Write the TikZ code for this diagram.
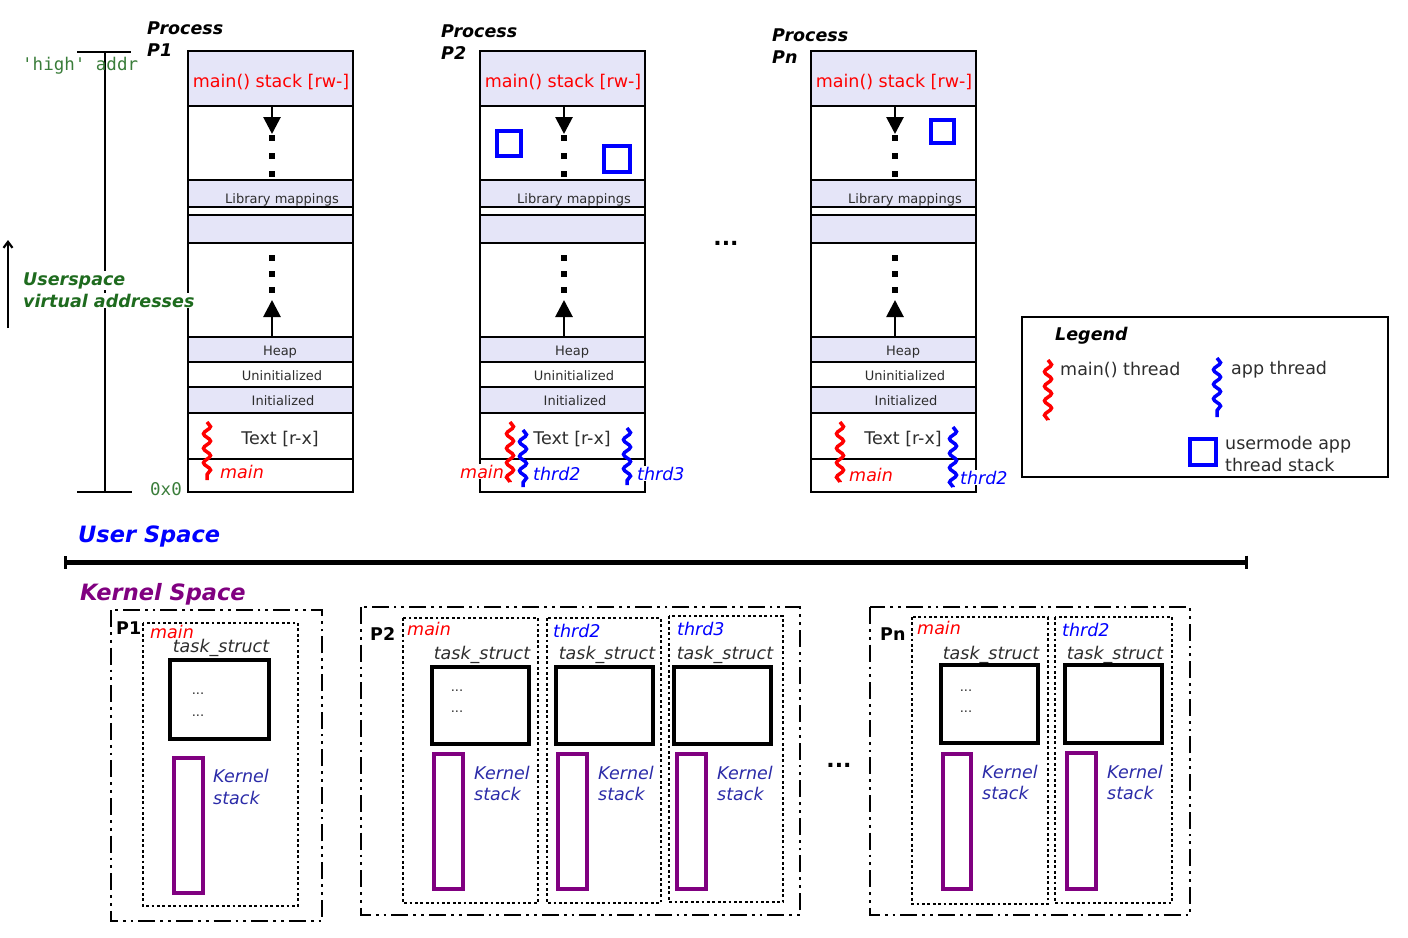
\documentclass[tikz,border=0pt]{standalone}
\usepackage{fontspec}
\setmainfont{DejaVu Sans}
\setmonofont{DejaVu Sans Mono}
\usetikzlibrary{arrows.meta,decorations.pathmorphing}
\definecolor{lav}{RGB}{229,229,248}
\definecolor{dgreen}{RGB}{30,107,30}
\definecolor{mgreen}{RGB}{58,125,58}
\definecolor{kblue}{RGB}{43,43,168}
\definecolor{kpurple}{RGB}{128,0,128}
\definecolor{tgrey}{RGB}{45,45,45}
\tikzset{
  txt/.style={inner sep=0pt, yshift=-4.5pt, font=\fontsize{17.5}{22}\selectfont},
  smalltxt/.style={inner sep=0pt, yshift=-3pt, font=\fontsize{13}{16}\selectfont, text=tgrey},
  bigtxt/.style={inner sep=0pt, yshift=-6pt, font=\fontsize{22.5}{27}\selectfont\bfseries\itshape},
  ellips/.style={inner sep=0pt, yshift=-4.5pt, font=\fontsize{22}{26}\selectfont\bfseries},
  boxline/.style={draw=black, line width=2.8pt},
  squig/.style={line width=3.5pt, decorate, decoration={snake, amplitude=3.5pt, segment length=14.5pt}},
  bluesq/.style={draw=blue, line width=4.5pt},
  growarrow/.style={line width=2.8pt, -{Triangle[length=17pt,width=17pt]}},
  dotline/.style={line width=5.5pt},
  outerbox/.style={draw=black, line width=2.8pt, dash pattern=on 17pt off 5pt on 2.8pt off 5pt on 2.8pt off 5pt},
  innerbox/.style={draw=black, line width=2.8pt, dash pattern=on 2.8pt off 2.6pt},
  taskbox/.style={draw=black, line width=4.5pt},
  kstack/.style={draw=kpurple, line width=4pt},
  wlabel/.style={txt, fill=white, inner sep=1pt},
}
\begin{document}
\begin{tikzpicture}[x=1pt,y=-1pt]
\useasboundingbox (0,0) rectangle (1408,937);

% ---------- address axis ----------
\draw[line width=2.8pt] (77,52) -- (131,52);
\draw[line width=2.8pt] (77,492) -- (132,492);
\draw[line width=2.8pt] (105,52) -- (105,492);
\node[txt, anchor=mid west, font=\fontsize{17.5}{22}\ttfamily, text=mgreen] (high) at (22,63) {'high' addr};
\node[txt, anchor=mid west, font=\fontsize{17.5}{22}\ttfamily, text=mgreen] (zero) at (150,488) {0x0};
\coordinate (uaS) at (8,328);
\coordinate (uaE) at (8,240);
\draw[line width=2.2pt, -{Straight Barb[length=6pt,width=9pt]}] (uaS) -- (uaE);

% ---------- user-space columns ----------
\foreach \cx/\nm in {188/a,480/b,811/c}{
\begin{scope}[shift={(\cx,0)}]
  \fill[lav] (0,51) rectangle (165,106);
  \fill[lav] (0,180) rectangle (165,207);
  \fill[lav] (0,215) rectangle (165,243);
  \fill[lav] (0,337) rectangle (165,362);
  \fill[lav] (0,387) rectangle (165,413);
  \foreach \yy in {106,180,207,215,243,337,362,387,413,459}{
    \draw[line width=2.8pt] (0,\yy) -- (165,\yy);
  }
  \draw[boxline] (0,51) rectangle (165,492);
  \node[txt, anchor=mid, text=red] (stk\nm) at (83,80) {main() stack [rw-]};
  \node[smalltxt, anchor=mid] (lib\nm) at (94,198) {Library mappings};
  \node[smalltxt, anchor=mid] (heap\nm) at (92,350) {Heap};
  \node[smalltxt, anchor=mid] (unin\nm) at (94,375) {Uninitialized};
  \node[smalltxt, anchor=mid] (init\nm) at (95,400) {Initialized};
  \node[txt, anchor=mid, text=tgrey] (text\nm) at (92,437) {Text [r-x]};
  \coordinate (sa\nm) at (84,106);
  \coordinate (sb\nm) at (84,134);
  \draw[growarrow] (sa\nm) -- (sb\nm);
  \draw[dotline, dash pattern=on 5.5pt off 12.5pt] (84,135) -- (84,177);
  \coordinate (ha\nm) at (84,337);
  \coordinate (hb\nm) at (84,300);
  \draw[growarrow] (ha\nm) -- (hb\nm);
  \draw[dotline, dash pattern=on 5.5pt off 10.5pt] (84,255) -- (84,293);
\end{scope}
}

% Userspace label (white background, over axis and box edge)
\node[txt, anchor=mid west, fill=white, inner sep=1pt, text=dgreen, font=\fontsize{17.5}{22}\selectfont\bfseries\itshape] (us1) at (22,278) {Userspace};
\node[txt, anchor=mid west, fill=white, inner sep=1pt, text=dgreen, font=\fontsize{17.5}{22}\selectfont\bfseries\itshape] (us2) at (22,300) {virtual addresses};

% process titles
\node[txt, anchor=mid west, font=\fontsize{17.5}{22}\selectfont\bfseries\itshape] (t1a) at (147,27) {Process};
\node[txt, anchor=mid west, font=\fontsize{17.5}{22}\selectfont\bfseries\itshape] (t1b) at (147,49) {P1};
\node[txt, anchor=mid west, font=\fontsize{17.5}{22}\selectfont\bfseries\itshape] (t2a) at (441,30) {Process};
\node[txt, anchor=mid west, font=\fontsize{17.5}{22}\selectfont\bfseries\itshape] (t2b) at (441,52) {P2};
\node[txt, anchor=mid west, font=\fontsize{17.5}{22}\selectfont\bfseries\itshape] (t3a) at (772,34) {Process};
\node[txt, anchor=mid west, font=\fontsize{17.5}{22}\selectfont\bfseries\itshape] (t3b) at (772,56) {Pn};
\node[ellips, anchor=mid] (udots) at (726,238) {...};

% blue user stacks
\draw[bluesq] (497,131) rectangle (521,156);
\draw[bluesq] (604,146) rectangle (630,172);
\draw[bluesq] (931,120) rectangle (954,143);

% thread labels and squiggles
\node[txt, anchor=mid west, text=red, font=\fontsize{17.5}{22}\selectfont\itshape] (m1) at (220,471) {main};
\draw[squig, red] (207,422) -- (207,480);

\node[wlabel, anchor=mid west, text=red, font=\fontsize{17.5}{22}\selectfont\itshape] (m2) at (459,471) {main};
\node[wlabel, anchor=mid west, text=blue, font=\fontsize{17.5}{22}\selectfont\itshape] (th22) at (532,473) {thrd2};
\node[wlabel, anchor=mid west, text=blue, font=\fontsize{17.5}{22}\selectfont\itshape] (th23) at (636,473) {thrd3};
\draw[squig, red] (510,422) -- (510,482);
\draw[squig, blue] (523,430) -- (523,487);
\draw[squig, blue] (627,428) -- (627,485);

\node[wlabel, anchor=mid west, text=red, font=\fontsize{17.5}{22}\selectfont\itshape] (m3) at (848,474) {main};
\node[wlabel, anchor=mid west, text=blue, font=\fontsize{17.5}{22}\selectfont\itshape] (th32) at (959,477) {thrd2};
\draw[squig, red] (840,422) -- (840,482);
\draw[squig, blue] (953,427) -- (953,487);

% ---------- legend ----------
\draw[boxline] (1022,317) rectangle (1388,477);
\node[txt, anchor=mid west, font=\fontsize{17.5}{22}\selectfont\bfseries\itshape] (leg) at (1055,333) {Legend};
\draw[squig, red] (1048,360) -- (1048,420);
\node[txt, anchor=mid west, text=tgrey] (lmain) at (1060,368) {main() thread};
\draw[squig, blue] (1217,358) -- (1217,417);
\node[txt, anchor=mid west, text=tgrey] (lapp) at (1231,367) {app thread};
\draw[bluesq] (1190,439) rectangle (1216,465);
\node[txt, anchor=mid west, text=tgrey] (lus1) at (1225,442) {usermode app};
\node[txt, anchor=mid west, text=tgrey] (lus2) at (1225,464) {thread stack};

% ---------- divider ----------
\node[bigtxt, anchor=mid west, text=blue] (uspace) at (78,534) {User Space};
\coordinate (divL) at (64,562);
\coordinate (divR) at (1248,562);
\draw[line width=5pt, {Bar[width=13pt,line width=3pt]}-{Bar[width=13pt,line width=3pt]}] (divL) -- (divR);
\node[bigtxt, anchor=mid west, text=kpurple] (kspace) at (80,592) {Kernel Space};

% ---------- kernel space ----------
% P1
\draw[outerbox] (111,610) rectangle (322,921);
\node[txt, anchor=mid west, font=\fontsize{17.5}{22}\selectfont\bfseries] (kp1) at (116,627) {P1};
\draw[innerbox] (143,623) rectangle (298,906);
\node[txt, anchor=mid west, text=red, font=\fontsize{17.5}{22}\selectfont\itshape] (k1m) at (150,631) {main};
\node[txt, anchor=mid, text=tgrey, font=\fontsize{17.5}{22}\selectfont\itshape] (k1t) at (221,645) {task\_struct};
\draw[taskbox] (170,660) rectangle (269,739);
\node[smalltxt, anchor=mid] (k1d1) at (198,689) {...};
\node[smalltxt, anchor=mid] (k1d2) at (198,711) {...};
\draw[kstack] (174,758) rectangle (203,893);
\node[txt, anchor=mid west, text=kblue, font=\fontsize{17.5}{22}\selectfont\itshape] (k1s1) at (213,775) {Kernel};
\node[txt, anchor=mid west, text=kblue, font=\fontsize{17.5}{22}\selectfont\itshape] (k1s2) at (213,797) {stack};

% P2
\draw[outerbox] (361,607) rectangle (800,915);
\node[txt, anchor=mid west, font=\fontsize{17.5}{22}\selectfont\bfseries] (kp2) at (370,633) {P2};
\draw[innerbox] (403,618) rectangle (538,903);
\draw[innerbox] (547,618) rectangle (661,903);
\draw[innerbox] (669,616) rectangle (783,902);
\node[txt, anchor=mid west, text=red, font=\fontsize{17.5}{22}\selectfont\itshape] (k2m) at (407,628) {main};
\node[txt, anchor=mid west, text=blue, font=\fontsize{17.5}{22}\selectfont\itshape] (k2t2) at (553,630) {thrd2};
\node[txt, anchor=mid west, text=blue, font=\fontsize{17.5}{22}\selectfont\itshape] (k2t3) at (677,628) {thrd3};
\node[txt, anchor=mid, text=tgrey, font=\fontsize{17.5}{22}\selectfont\itshape] (k2ts1) at (482,652) {task\_struct};
\node[txt, anchor=mid, text=tgrey, font=\fontsize{17.5}{22}\selectfont\itshape] (k2ts2) at (607,652) {task\_struct};
\node[txt, anchor=mid, text=tgrey, font=\fontsize{17.5}{22}\selectfont\itshape] (k2ts3) at (725,652) {task\_struct};
\draw[taskbox] (432,667) rectangle (529,744);
\draw[taskbox] (556,667) rectangle (653,744);
\draw[taskbox] (674,667) rectangle (771,744);
\node[smalltxt, anchor=mid] (k2d1) at (457,686) {...};
\node[smalltxt, anchor=mid] (k2d2) at (457,707) {...};
\draw[kstack] (434,754) rectangle (463,889);
\draw[kstack] (558,754) rectangle (587,889);
\draw[kstack] (677,754) rectangle (706,889);
\foreach \kx/\kn in {474/a,598/b,717/c}{
  \node[txt, anchor=mid west, text=kblue, font=\fontsize{17.5}{22}\selectfont\itshape] (k2s1\kn) at (\kx,772) {Kernel};
  \node[txt, anchor=mid west, text=kblue, font=\fontsize{17.5}{22}\selectfont\itshape] (k2s2\kn) at (\kx,793) {stack};
}

\node[ellips, anchor=mid] (kdots) at (839,760) {...};

% Pn
\draw[outerbox] (870,607) rectangle (1190,915);
\node[txt, anchor=mid west, font=\fontsize{17.5}{22}\selectfont\bfseries] (kp3) at (880,633) {Pn};
\draw[innerbox] (912,617) rectangle (1048,904);
\draw[innerbox] (1055,617) rectangle (1172,903);
\node[txt, anchor=mid west, text=red, font=\fontsize{17.5}{22}\selectfont\itshape] (k3m) at (917,627) {main};
\node[txt, anchor=mid west, text=blue, font=\fontsize{17.5}{22}\selectfont\itshape] (k3t2) at (1062,629) {thrd2};
\node[txt, anchor=mid, text=tgrey, font=\fontsize{17.5}{22}\selectfont\itshape] (k3ts1) at (991,652) {task\_struct};
\node[txt, anchor=mid, text=tgrey, font=\fontsize{17.5}{22}\selectfont\itshape] (k3ts2) at (1115,652) {task\_struct};
\draw[taskbox] (941,665) rectangle (1038,743);
\draw[taskbox] (1065,665) rectangle (1162,743);
\node[smalltxt, anchor=mid] (k3d1) at (966,686) {...};
\node[smalltxt, anchor=mid] (k3d2) at (966,707) {...};
\draw[kstack] (943,754) rectangle (971,889);
\draw[kstack] (1067,753) rectangle (1096,889);
\foreach \kx/\kn in {982/a,1107/b}{
  \node[txt, anchor=mid west, text=kblue, font=\fontsize{17.5}{22}\selectfont\itshape] (k3s1\kn) at (\kx,771) {Kernel};
  \node[txt, anchor=mid west, text=kblue, font=\fontsize{17.5}{22}\selectfont\itshape] (k3s2\kn) at (\kx,792) {stack};
}
\end{tikzpicture}
\end{document}
